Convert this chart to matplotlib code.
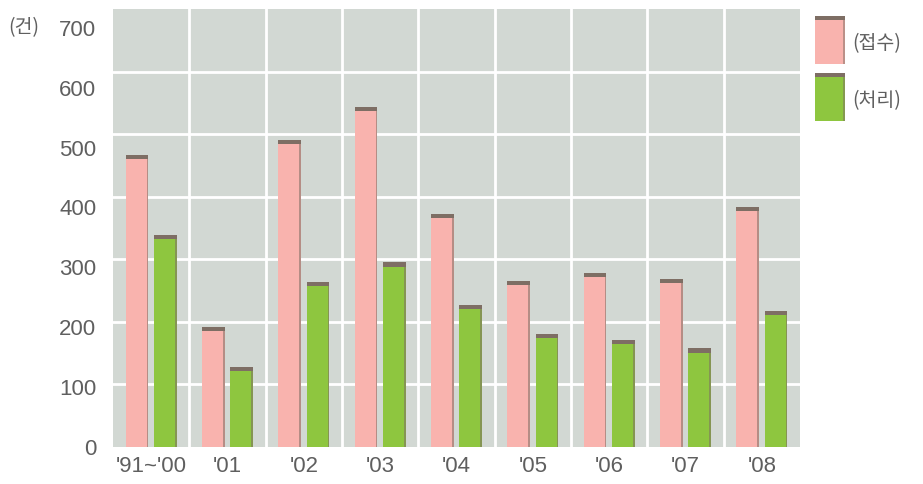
import matplotlib
matplotlib.use("Agg")
import matplotlib.pyplot as plt
import numpy as np
from matplotlib.patches import Rectangle

plt.rcParams['font.family'] = ['Liberation Sans', 'Noto Sans CJK KR', 'DejaVu Sans']

categories = ["'91~'00", "'01", "'02", "'03", "'04", "'05", "'06", "'07", "'08"]
received = [467, 192, 491, 544, 373, 266, 278, 269, 384]   # (접수)
processed = [339, 128, 264, 295, 227, 181, 171, 158, 218]  # (처리)
series_labels = ["(접수)", "(처리)"]
y_ticks = [0, 100, 200, 300, 400, 500, 600, 700]
unit_label = "(건)"

pink = "#f9b3ae"
green = "#8ec63f"
cap = "#7e6e64"
bg = "#d2d8d3"
txt = "#5f5f5f"
cjk = ['Noto Sans CJK KR', 'DejaVu Sans']

W, H = 923, 485
fig = plt.figure(figsize=(W/100, H/100), dpi=100)
rect = [113/W, 1-448/H, (800-113)/W, (448-10)/H]
ax = fig.add_axes(rect)
ax.set_facecolor(bg)

x = np.arange(len(categories))
w = 0.30
off = 0.185
cap_h = 7

for vals, color, sign in [(received, pink, -1), (processed, green, 1)]:
    vals = np.asarray(vals, float)
    xs = x + sign*off
    ax.bar(xs, vals, width=w, color=color, linewidth=0, zorder=3)
    ax.bar(xs + w/2 - 0.012, vals, width=0.024, color=cap, alpha=0.55, linewidth=0, zorder=4)
    ax.bar(xs, np.full_like(vals, cap_h), bottom=vals - cap_h, width=w,
           color=cap, linewidth=0, zorder=5)

ax.set_xlim(-0.5, len(categories) - 0.5)
ax.set_ylim(0, 700)
ax.set_yticks(y_ticks)
ax.set_yticklabels([])
ax.set_xticks(x)
ax.set_xticklabels(categories, fontsize=16, color=txt)
ax.tick_params(length=0)
ax.tick_params(axis='x', pad=6)

for t in y_ticks[1:-1]:
    ax.axhline(t, color='white', lw=2, zorder=1)
for k in range(len(categories) - 1):
    ax.axvline(k + 0.5, color='white', lw=2, zorder=1)
for s in ax.spines.values():
    s.set_visible(False)

# tick-label axis (labels in the reference sit on a slightly tighter scale)
lab = fig.add_axes(rect, frameon=False)
lab.patch.set_visible(False)
lab.set_ylim(-2, 730)
lab.set_yticks(y_ticks)
lab.set_yticklabels([str(t) for t in y_ticks], fontsize=16, color=txt)
lab.set_xticks([])
lab.tick_params(length=0, pad=12)

fig.text(8/W, 1-28/H, unit_label, fontsize=14, color=txt, va='center', ha='left', family=cjk)

# legend: swatches with dark top cap, drawn in figure pixels
for i, (label, color) in enumerate(zip(series_labels, [pink, green])):
    top = 17 + i*57
    hgt = 48
    fig.add_artist(Rectangle((815/W, 1-(top+hgt)/H), 30/W, hgt/H, transform=fig.transFigure,
                             facecolor=color, edgecolor='none'))
    fig.add_artist(Rectangle((815/W, 1-(top+4)/H), 30/W, 4/H, transform=fig.transFigure,
                             facecolor=cap, edgecolor='none'))
    fig.add_artist(Rectangle((843/W, 1-(top+hgt)/H), 2/W, hgt/H, transform=fig.transFigure,
                             facecolor=cap, alpha=0.5, edgecolor='none'))
    fig.text(852/W, 1-(top+27)/H, label, fontsize=14, color=txt, va='center', ha='left',
             family=cjk)

fig.savefig("out.png", dpi=100)
